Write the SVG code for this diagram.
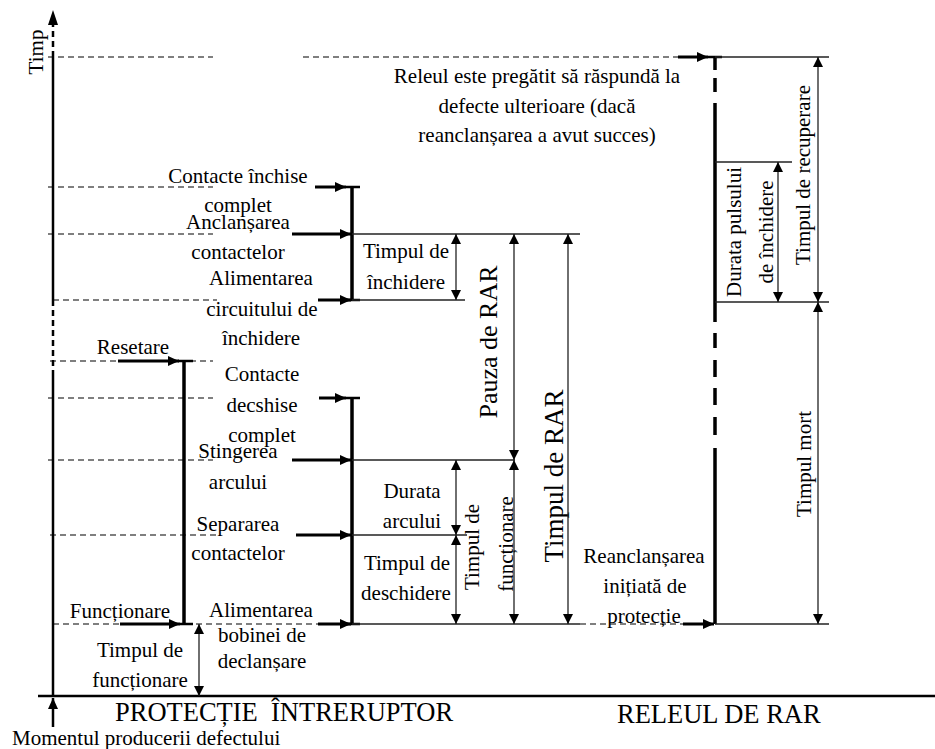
<svg xmlns="http://www.w3.org/2000/svg" width="935" height="749" viewBox="0 0 935 749" font-family="'Liberation Serif', 'DejaVu Serif', serif">
<style>
text{font-family:'Liberation Serif','DejaVu Serif',serif}
.t{font-size:21px;fill:#000;text-anchor:middle}
.big{fill:#000}
.ref{stroke:#000;stroke-width:1.2;stroke-dasharray:6 4;fill:none}
.thin{stroke:#222;stroke-width:1.3;fill:none}
.dim{stroke:#222;stroke-width:1.3;fill:none;marker-start:url(#ah);marker-end:url(#ah)}
.bar{stroke:#000;stroke-width:3.5;fill:none}
.cap{stroke:#000;stroke-width:2.5;fill:none}
.ta{stroke:#000;stroke-width:3;fill:none;marker-end:url(#tah)}
.axis{stroke:#000;stroke-width:2.5;fill:none}
</style>
<defs>
<marker id="ah" markerUnits="userSpaceOnUse" markerWidth="10" markerHeight="10" refX="10" refY="5" orient="auto-start-reverse" viewBox="0 0 10 10">
<path d="M0,0 L10,5 L0,10 z" fill="#000"/>
</marker>
<marker id="tah" markerUnits="userSpaceOnUse" markerWidth="11" markerHeight="10" refX="11" refY="5" orient="auto" viewBox="0 0 11 10">
<path d="M0,0 L11,5 L0,10 z" fill="#000"/>
</marker>
</defs>
<rect width="935" height="749" fill="#fff"/>

<g id="axes">
<path class="axis" d="M53,57 L53,300 M53,372 L53,696"/>
<path d="M53,57 L53,24 M53,300 L53,372" stroke="#000" stroke-width="2.5" stroke-dasharray="6 4" fill="none"/>
<path d="M53,10 L58,25 L48,25 z" fill="#000"/>
<line class="axis" x1="38" y1="696" x2="935" y2="696"/>
<line x1="53" y1="727" x2="53" y2="698" stroke="#000" stroke-width="2.5" marker-end="url(#tah)"/>
<text class="t" transform="translate(43,52) rotate(-90)">Timp</text>
<text class="big" x="12" y="745" font-size="21">Momentul producerii defectului</text>
<text class="big" x="115" y="721" font-size="26.5" xml:space="preserve">PROTECȚIE  ÎNTRERUPTOR</text>
<text class="big" x="617" y="723" font-size="26.5">RELEUL DE RAR</text>
</g>

<g id="reference-lines">
<line class="ref" x1="48" y1="57" x2="213" y2="57"/>
<line class="ref" x1="303" y1="57" x2="678" y2="57"/>
<line class="ref" x1="48" y1="187" x2="213" y2="187"/>
<line class="ref" x1="48" y1="234" x2="213" y2="234"/>
<line class="ref" x1="53" y1="300" x2="217" y2="300"/>
<line class="ref" x1="50" y1="361" x2="213" y2="361"/>
<line class="ref" x1="48" y1="398" x2="213" y2="398"/>
<line class="ref" x1="48" y1="460" x2="213" y2="460"/>
<line class="ref" x1="50" y1="535" x2="217" y2="535"/>
<line class="ref" x1="53" y1="624" x2="178" y2="624"/>
<line class="ref" x1="196" y1="624" x2="318" y2="624"/>
<line class="ref" x1="580" y1="624" x2="683" y2="624"/>
</g>

<g id="protection-bar">
<line class="bar" x1="184" y1="361" x2="184" y2="624"/>
<line class="cap" x1="178" y1="361" x2="193" y2="361"/>
<line class="cap" x1="180" y1="624" x2="193" y2="624"/>
<text class="t" x="133" y="354">Resetare</text>
<text class="t" x="120" y="618">Funcționare</text>
<text class="t" x="140" y="657">Timpul de</text>
<text class="t" x="140" y="687">funcționare</text>
</g>

<g id="breaker-closing">
<line class="bar" x1="352" y1="187" x2="352" y2="300"/>
<line class="cap" x1="346" y1="187" x2="360" y2="187"/>
<line class="cap" x1="346" y1="300" x2="360" y2="300"/>
<text class="t" x="238" y="183">Contacte închise</text>
<text class="t" x="238" y="212">complet</text>
<text class="t" x="238" y="229">Anclanșarea</text>
<text class="t" x="238" y="259">contactelor</text>
<text class="t" x="261" y="285">Alimentarea</text>
<text class="t" x="262" y="316">circuitului de</text>
<text class="t" x="261" y="345">închidere</text>
<text class="t" x="406" y="258">Timpul de</text>
<text class="t" x="406" y="289">închidere</text>
</g>

<g id="breaker-opening">
<line class="bar" x1="352" y1="398" x2="352" y2="624"/>
<line class="cap" x1="346" y1="398" x2="360" y2="398"/>
<line class="cap" x1="346" y1="624" x2="360" y2="624"/>
<text class="t" x="262" y="381">Contacte</text>
<text class="t" x="262" y="412">decshise</text>
<text class="t" x="262" y="442">complet</text>
<text class="t" x="238" y="458">Stingerea</text>
<text class="t" x="238" y="489">arcului</text>
<text class="t" x="238" y="531">Separarea</text>
<text class="t" x="238" y="560">contactelor</text>
<text class="t" x="261" y="617">Alimentarea</text>
<text class="t" x="262" y="642">bobinei de</text>
<text class="t" x="262" y="668">declanșare</text>
<text class="t" x="412" y="498">Durata</text>
<text class="t" x="412" y="528">arcului</text>
<text class="t" x="407" y="570">Timpul de</text>
<text class="t" x="406" y="600">deschidere</text>
<text class="t" transform="translate(479,547) rotate(-90)">Timpul de</text>
<text class="t" transform="translate(513,544) rotate(-90)">funcționare</text>
<text class="big" font-size="26" text-anchor="middle" transform="translate(497,342) rotate(-90)">Pauza de RAR</text>
<text class="big" font-size="27" text-anchor="middle" transform="translate(563,476) rotate(-90)">Timpul de RAR</text>
</g>

<g id="rar-relay">
<path class="bar" d="M715,57 L715,70 M715,78 L715,92 M715,103 L715,322 M715,333 L715,348 M715,360 L715,377 M715,388 L715,405 M715,417 L715,435 M715,448 L715,624"/>
<line class="cap" x1="708" y1="57" x2="722" y2="57"/>
<text class="t" x="537" y="83">Releul este pregătit să răspundă la</text>
<text class="t" x="537" y="113">defecte ulterioare (dacă</text>
<text class="t" x="537" y="142">reanclanșarea a avut succes)</text>
<text class="t" x="644" y="563">Reanclanșarea</text>
<text class="t" x="645" y="593">inițiată de</text>
<text class="t" x="644" y="623">protecție</text>
<text class="t" transform="translate(741,232) rotate(-90)">Durata pulsului</text>
<text class="t" transform="translate(773,232) rotate(-90)">de închidere</text>
<text class="t" transform="translate(810,175) rotate(-90)">Timpul de recuperare</text>
<text class="t" transform="translate(811,464) rotate(-90)">Timpul mort</text>
</g>

<g id="connectors">
<line class="ta" x1="315" y1="187" x2="346" y2="187"/>
<line class="ta" x1="292" y1="234" x2="351" y2="234"/>
<line class="ta" x1="318" y1="300" x2="351" y2="300"/>
<line class="ta" x1="118" y1="361" x2="179" y2="361"/>
<line class="ta" x1="319" y1="398" x2="346" y2="398"/>
<line class="ta" x1="292" y1="460" x2="351" y2="460"/>
<line class="ta" x1="296" y1="535" x2="351" y2="535"/>
<line class="ta" x1="120" y1="624" x2="180" y2="624"/>
<line class="ta" x1="318" y1="624" x2="351" y2="624"/>
<line class="ta" x1="678" y1="57" x2="708" y2="57"/>
<line class="ta" x1="683" y1="624" x2="714" y2="624"/>

<line class="thin" x1="352" y1="234" x2="580" y2="234"/>
<line class="thin" x1="352" y1="300" x2="465" y2="300"/>
<line class="thin" x1="352" y1="460" x2="515" y2="460"/>
<line class="thin" x1="352" y1="535" x2="467" y2="535"/>
<line class="thin" x1="352" y1="624" x2="580" y2="624"/>
<line class="thin" x1="715" y1="57" x2="829" y2="57"/>
<line class="thin" x1="715" y1="162" x2="792" y2="162"/>
<line class="thin" x1="715" y1="302" x2="829" y2="302"/>
<line class="thin" x1="715" y1="624" x2="829" y2="624"/>

<line class="dim" x1="456" y1="234" x2="456" y2="300"/>
<line class="dim" x1="514" y1="234" x2="514" y2="460"/>
<line class="dim" x1="568" y1="234" x2="568" y2="624"/>
<line class="dim" x1="456" y1="460" x2="456" y2="535"/>
<line class="dim" x1="456" y1="535" x2="456" y2="624"/>
<line class="dim" x1="514" y1="460" x2="514" y2="624"/>
<line class="dim" x1="199" y1="624" x2="199" y2="696"/>
<line class="dim" x1="778" y1="162" x2="778" y2="302"/>
<line class="dim" x1="818" y1="57" x2="818" y2="302"/>
<line class="dim" x1="818" y1="302" x2="818" y2="624"/>
</g>
</svg>
